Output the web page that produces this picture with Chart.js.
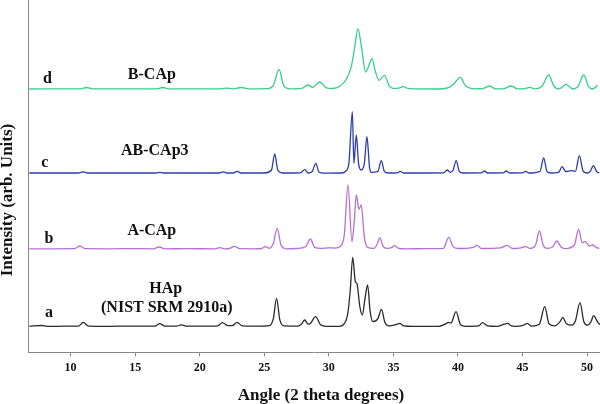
<!DOCTYPE html>
<html>
<head>
<meta charset="utf-8">
<script src="https://cdn.jsdelivr.net/npm/chart.js@4.4.1/dist/chart.umd.min.js"></script>
<style>
html,body{margin:0;padding:0;background:#fff;}
#wrap{width:600px;height:404px;}
</style>
</head>
<body>
<div id="wrap"><canvas id="c" width="600" height="404"></canvas></div>
<script>
// ---- data (2θ angle in degrees, intensity above each trace's own baseline, arb. units) ----
const tickValues = [10, 15, 20, 25, 30, 35, 40, 45, 50];
const seriesNames = ['HAp', 'A-CAp', 'AB-CAp3', 'B-CAp'];
const seriesLetters = ['a', 'b', 'c', 'd'];
const traceOffsets = [25.6, 103, 179, 263];

const hapAngle = [6.8,7.76,8.2,9.5,10.6,10.97,11.4,13,14.5,16.5,16.91,17.3,18.2,18.59,19,20.5,21.4,21.76,22.2,22.55,22.89,23.3,24.5,25.4,25.7,25.95,26.2,26.55,27.6,27.9,28.13,28.4,28.55,28.98,29.35,29.8,30.8,31.2,31.45,31.65,31.85,32.05,32.18,32.4,32.59,32.8,33.0,33.2,33.41,33.8,34.07,34.35,34.7,35.3,35.5,35.8,36.5,38.5,39.0,39.29,39.45,39.85,40.2,40.6,41.6,41.9,42.3,43.0,43.6,43.86,44.1,44.4,45.1,45.36,45.7,46.3,46.72,47.05,47.5,47.9,48.11,48.4,48.8,49.1,49.45,49.75,50.05,50.3,50.51,50.8,51];
const hapInt   = [0.5,1.2,0.3,0.5,0.5,4.3,0.6,0.4,0.6,0.5,3,0.6,0.6,1.8,0.5,0.5,0.8,4,1,1.2,4.3,0.8,0.5,1,8,28.3,7,0.8,0.6,3,6.7,2.5,3,10,2,0.4,0.4,3,12,35,69.4,45,43,20,11.7,28,41.7,15,5,8,17.3,4,0.8,2.6,3.3,0.8,0.3,0.3,2.5,4.3,3.5,15,2,0.4,0.8,4,0.8,0.3,2.5,3.3,1,0.3,1.5,3.3,0.6,2.5,20,3,0.8,5,9.3,3,1.5,6,24,5,1.5,5,11,5,2];

const acapAngle = [6.8,8.5,10.3,10.72,11.1,13,15,16.4,16.86,17.3,19,21.2,21.55,21.9,22.3,22.71,23.1,24.2,24.8,25.11,25.4,25.7,26.0,26.3,26.7,27.5,28.2,28.57,28.9,29.4,30.0,30.5,30.9,31.2,31.48,31.79,31.95,32.13,32.33,32.51,32.75,33.0,33.5,33.7,33.95,34.2,34.5,34.9,35.1,35.4,36,37.5,38.9,39.0,39.29,39.6,40.0,41.2,41.49,41.8,43.3,43.81,44.2,44.9,45.23,45.6,46.0,46.31,46.6,46.9,47.3,47.65,48.0,48.3,49.0,49.35,49.61,49.87,50.18,50.43,50.7,50.95];
const acapInt   = [0.5,0.5,0.6,3.3,0.6,0.5,0.7,0.5,2.3,0.5,0.6,0.5,1.7,0.5,0.8,3,0.6,0.5,0.8,2.7,1,6,21,4,0.5,0.8,2.5,10.3,2,1,1.5,1.2,3,15,64.3,7.6,25,54.3,40,44.3,12,2,1,4,11.5,3,1,2,3.7,1,0.5,0.6,1,4,12,3,0.8,2,4,0.8,1.5,4,0.8,1.5,2.7,0.8,4,18.3,4,1,2,8.3,2,0.7,4,20,6.7,7.7,3.3,4.3,2,1];

const abcapAngle = [6.8,8,10.6,10.97,11.3,14,16.6,16.91,17.2,21.5,21.81,22.1,22.6,22.89,23.2,25.0,25.55,25.81,26.05,26.4,27.8,28.13,28.4,28.7,28.98,29.25,29.6,31.0,31.3,31.55,31.82,31.94,32.13,32.3,32.51,32.75,32.95,33.15,33.29,33.8,34.06,34.3,34.6,35.3,35.53,35.8,38.9,39.17,39.4,39.62,39.86,40.1,40.4,41.8,42.05,42.3,43.5,43.73,44.0,45.0,45.23,45.5,46.35,46.64,46.9,47.2,47.8,48.07,48.35,48.76,49.1,49.4,49.7,50.0,50.25,50.49,50.75,50.95];
const abcapInt   = [0.3,0.3,0.3,1.5,0.3,0.3,0.3,1,0.3,0.3,1.5,0.3,0.3,2,0.3,0.3,3,19.3,3,0.3,0.5,3.7,0.3,1.5,10,1,0.2,0.3,2,10,61.7,10,38.3,10,3.3,10,36.7,6,1,2,12.7,2,0.3,0.5,2,0.3,0.5,3.3,1,3,12.7,2,0.3,0.4,2.3,0.3,0.4,2.3,0.3,0.4,2,0.3,2,15.3,1.5,0.3,1,6.7,1.7,2.7,2,17.7,2,0.3,2,7.7,1.5,0.5];

const bcapAngle = [6.8,9,10.8,11.24,11.7,14,16.7,17.14,17.6,20,21.7,22.07,22.6,23.23,23.8,25.2,25.7,26.14,26.5,27.0,27.9,28.38,28.77,29.29,29.8,30.3,30.84,31.35,31.74,32.0,32.25,32.51,32.85,33.05,33.34,33.6,33.88,34.32,34.65,34.96,35.4,35.79,36.2,38.5,39.2,39.6,40.2,40.5,40.76,41.3,42.0,42.44,42.9,43.5,44.12,44.6,45.1,45.54,46.0,46.5,47.03,47.4,47.73,48.0,48.38,48.89,49.3,49.74,50.1,50.43,50.82];
const bcapInt   = [0.3,0.5,0.5,1.8,0.5,0.4,0.5,1.8,0.5,0.4,0.5,1.2,0.5,1.8,0.4,0.6,4,20,4,0.5,1,4.3,2,7.3,1.5,0.8,3,10,23,42,60.7,44,17.3,22,30.7,18,9,14,4,1,1.2,2.6,0.6,0.3,1.5,4.3,12,5,2,0.5,1,3.3,0.5,0.5,3.3,0.5,0.5,2,0.5,3,14.3,4,0.5,1.5,5,0.3,3,14.3,3,0.3,4];

// label anchors in data coordinates (angle, stacked intensity)
const letterAnchors = [[8.32, 35], [8.32, 109.6], [8.01, 185.6], [8.205, 269.0]];
const nameAnchors = [[17.37, 59.6], [16.29, 117.3], [16.52, 197.3], [16.29, 273.3]];
const hapSubtitle = '(NIST SRM 2910a)';
const hapSubtitleAnchor = [17.45, 40.8];
const xTitle = 'Angle (2 theta degrees)';
const yTitle = 'Intensity (arb. Units)';

const angles = [hapAngle, acapAngle, abcapAngle, bcapAngle];
const ints = [hapInt, acapInt, abcapInt, bcapInt];
const colors = ['#2b2b2b', '#b86fd4', '#2c3ca8', '#34cf8c'];

const datasets = angles.map((ang, i) => ({
  label: seriesNames[i],
  data: ang.map((a, j) => ({x: a, y: ints[i][j] + traceOffsets[i]})),
  borderColor: colors[i],
  borderWidth: 1.3,
  pointRadius: 0,
  fill: false,
  cubicInterpolationMode: 'monotone'
}));

const SERIF = '"Liberation Serif", "Times New Roman", serif';

const labelPlugin = {
  id: 'labels',
  afterDraw(chart) {
    const {ctx, scales: {x, y}} = chart;
    ctx.save();
    ctx.fillStyle = '#111';
    ctx.font = 'bold 16px ' + SERIF;
    ctx.textAlign = 'center';
    ctx.textBaseline = 'alphabetic';
    letterAnchors.forEach((p, i) => ctx.fillText(seriesLetters[i], x.getPixelForValue(p[0]), y.getPixelForValue(p[1])));
    nameAnchors.forEach((p, i) => ctx.fillText(seriesNames[i], x.getPixelForValue(p[0]), y.getPixelForValue(p[1])));
    ctx.fillText(hapSubtitle, x.getPixelForValue(hapSubtitleAnchor[0]), y.getPixelForValue(hapSubtitleAnchor[1]));
    // axis titles
    ctx.font = 'bold 17px ' + SERIF;
    ctx.fillText(xTitle, 321, 400);
    ctx.translate(12, 200);
    ctx.rotate(-Math.PI / 2);
    ctx.fillText(yTitle, 0, 0);
    ctx.restore();
  }
};

new Chart(document.getElementById('c'), {
  type: 'line',
  data: {datasets},
  options: {
    responsive: false,
    animation: false,
    layout: {padding: 0},
    plugins: {legend: {display: false}, tooltip: {enabled: false}},
    scales: {
      x: {
        type: 'linear',
        min: 6.7,
        max: 51,
        afterBuildTicks: (axis) => { axis.ticks = tickValues.map(v => ({value: v})); },
        afterFit: (axis) => { axis.height = 51.7; },
        ticks: {
          color: '#111',
          font: {family: SERIF, size: 12, weight: 'bold'},
          padding: 4,
          autoSkip: false,
          maxRotation: 0
        },
        grid: {display: true, drawOnChartArea: false, drawTicks: true, tickLength: 4, color: '#888'},
        border: {display: true, color: '#888', width: 1}
      },
      y: {
        type: 'linear',
        min: 0,
        max: 352.3,
        afterFit: (axis) => { axis.width = 28; },
        ticks: {display: false},
        grid: {display: false, drawTicks: false},
        border: {display: true, color: '#888', width: 1}
      }
    }
  },
  plugins: [labelPlugin]
});
</script>
</body>
</html>
